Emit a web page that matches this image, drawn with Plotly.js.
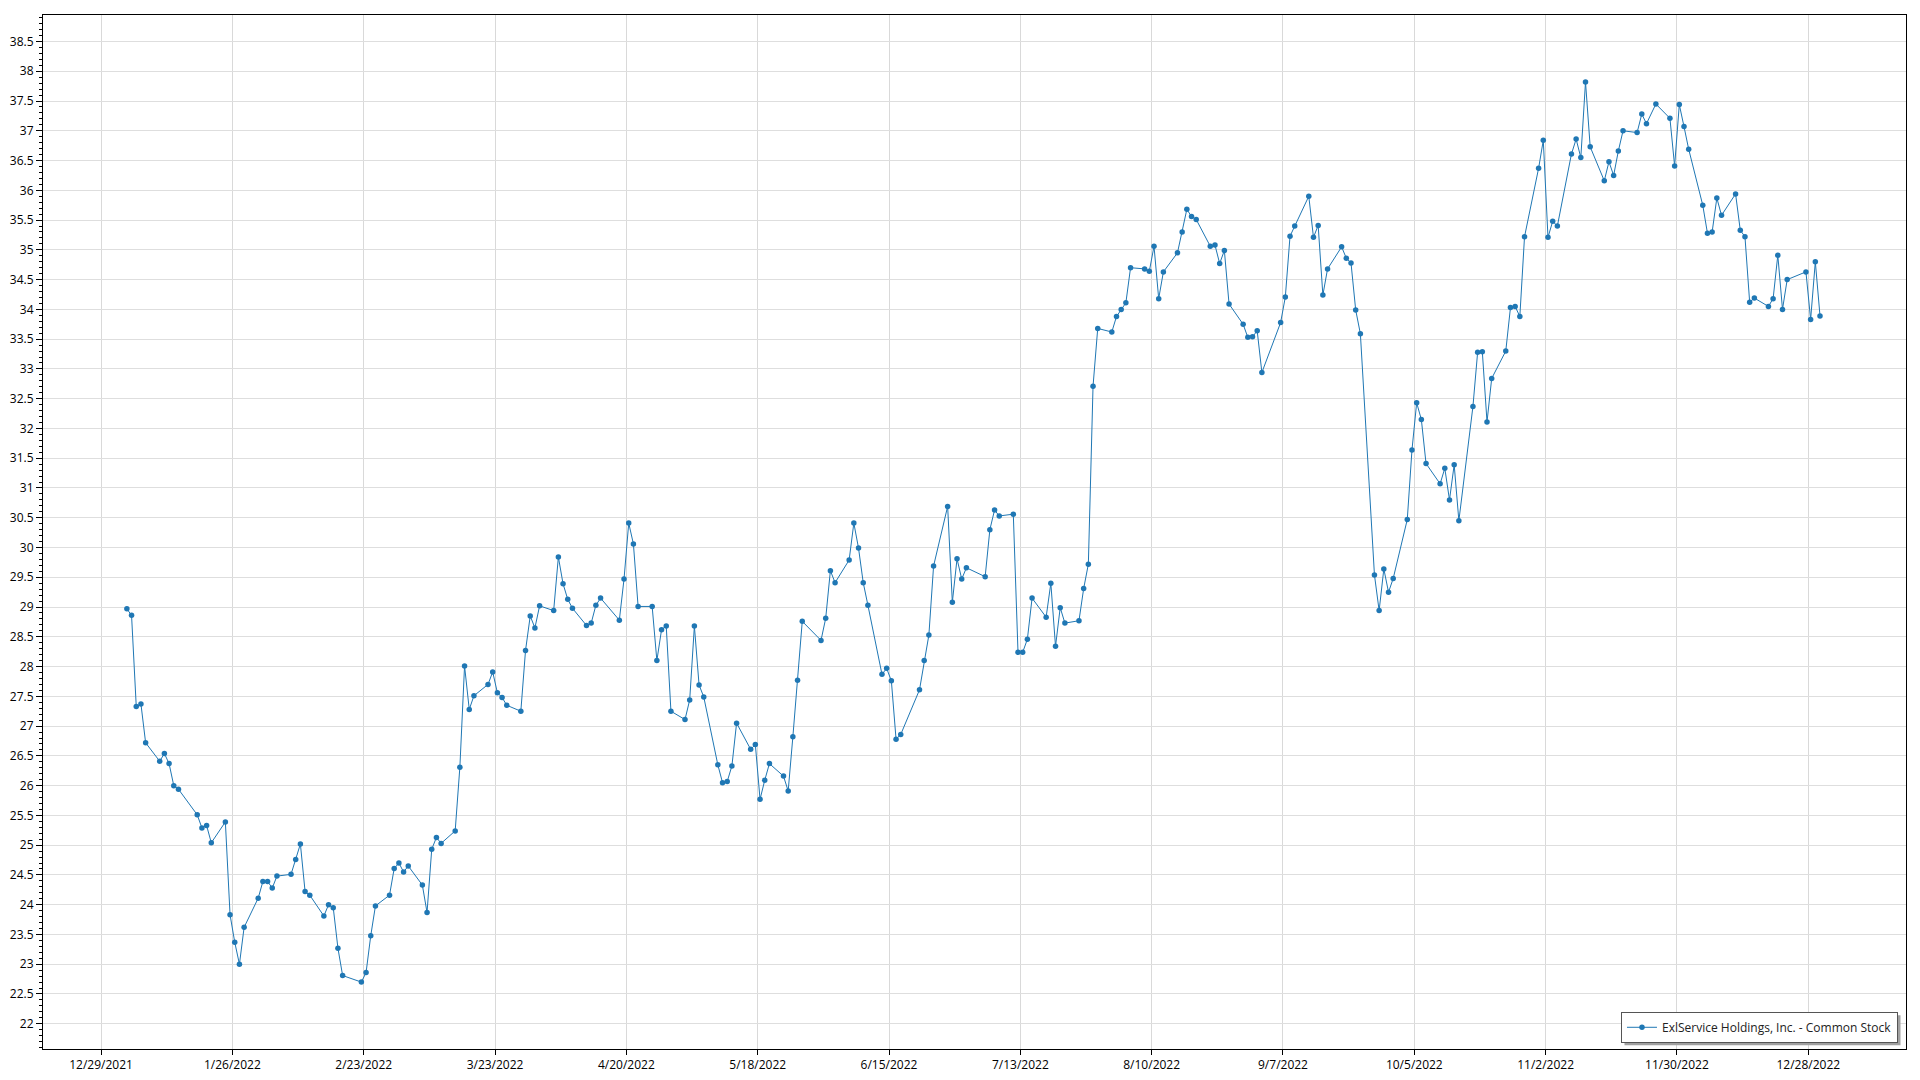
<!DOCTYPE html>
<html>
<head>
<meta charset="utf-8">
<script src="https://cdn.plot.ly/plotly-3.0.1.min.js"></script>
<style>
html,body{margin:0;padding:0;background:#fff;}
#chart{width:1920px;height:1080px;}
</style>
</head>
<body>
<div id="chart"></div>
<script>
const seriesName = "ExlService Holdings, Inc. - Common Stock";

const dates = [
"2022-01-03","2022-01-04","2022-01-05","2022-01-06","2022-01-07","2022-01-10","2022-01-11","2022-01-12","2022-01-13","2022-01-14",
"2022-01-18","2022-01-19","2022-01-20","2022-01-21","2022-01-24","2022-01-25","2022-01-26","2022-01-27","2022-01-28","2022-01-31",
"2022-02-01","2022-02-02","2022-02-03","2022-02-04","2022-02-07","2022-02-08","2022-02-09","2022-02-10","2022-02-11","2022-02-14",
"2022-02-15","2022-02-16","2022-02-17","2022-02-18","2022-02-22","2022-02-23","2022-02-24","2022-02-25","2022-02-28",
"2022-03-01","2022-03-02","2022-03-03","2022-03-04","2022-03-07","2022-03-08","2022-03-09","2022-03-10","2022-03-11","2022-03-14",
"2022-03-15","2022-03-16","2022-03-17","2022-03-18","2022-03-21","2022-03-22","2022-03-23","2022-03-24","2022-03-25","2022-03-28",
"2022-03-29","2022-03-30","2022-03-31",
"2022-04-01","2022-04-04","2022-04-05","2022-04-06","2022-04-07","2022-04-08","2022-04-11","2022-04-12","2022-04-13","2022-04-14",
"2022-04-18","2022-04-19","2022-04-20","2022-04-21","2022-04-22","2022-04-25","2022-04-26","2022-04-27","2022-04-28","2022-04-29",
"2022-05-02","2022-05-03","2022-05-04","2022-05-05","2022-05-06","2022-05-09","2022-05-10","2022-05-11","2022-05-12","2022-05-13",
"2022-05-16","2022-05-17","2022-05-18","2022-05-19","2022-05-20","2022-05-23","2022-05-24","2022-05-25","2022-05-26","2022-05-27",
"2022-05-31",
"2022-06-01","2022-06-02","2022-06-03","2022-06-06","2022-06-07","2022-06-08","2022-06-09","2022-06-10","2022-06-13","2022-06-14",
"2022-06-15","2022-06-16","2022-06-17","2022-06-21","2022-06-22","2022-06-23","2022-06-24","2022-06-27","2022-06-28","2022-06-29",
"2022-06-30",
"2022-07-01","2022-07-05","2022-07-06","2022-07-07","2022-07-08","2022-07-11","2022-07-12","2022-07-13","2022-07-14","2022-07-15",
"2022-07-18","2022-07-19","2022-07-20","2022-07-21","2022-07-22","2022-07-25","2022-07-26","2022-07-27","2022-07-28","2022-07-29",
"2022-08-01","2022-08-02","2022-08-03","2022-08-04","2022-08-05","2022-08-08","2022-08-09","2022-08-10","2022-08-11","2022-08-12",
"2022-08-15","2022-08-16","2022-08-17","2022-08-18","2022-08-19","2022-08-22","2022-08-23","2022-08-24","2022-08-25","2022-08-26",
"2022-08-29","2022-08-30","2022-08-31",
"2022-09-01","2022-09-02","2022-09-06","2022-09-07","2022-09-08","2022-09-09","2022-09-12","2022-09-13","2022-09-14","2022-09-15",
"2022-09-16","2022-09-19","2022-09-20","2022-09-21","2022-09-22","2022-09-23","2022-09-26","2022-09-27","2022-09-28","2022-09-29",
"2022-09-30",
"2022-10-03","2022-10-04","2022-10-05","2022-10-06","2022-10-07","2022-10-10","2022-10-11","2022-10-12","2022-10-13","2022-10-14",
"2022-10-17","2022-10-18","2022-10-19","2022-10-20","2022-10-21","2022-10-24","2022-10-25","2022-10-26","2022-10-27","2022-10-28",
"2022-10-31",
"2022-11-01","2022-11-02","2022-11-03","2022-11-04","2022-11-07","2022-11-08","2022-11-09","2022-11-10","2022-11-11","2022-11-14",
"2022-11-15","2022-11-16","2022-11-17","2022-11-18","2022-11-21","2022-11-22","2022-11-23","2022-11-25","2022-11-28","2022-11-29",
"2022-11-30",
"2022-12-01","2022-12-02","2022-12-05","2022-12-06","2022-12-07","2022-12-08","2022-12-09","2022-12-12","2022-12-13","2022-12-14",
"2022-12-15","2022-12-16","2022-12-19","2022-12-20","2022-12-21","2022-12-22","2022-12-23","2022-12-27","2022-12-28","2022-12-29",
"2022-12-30"
];

const prices = [
28.97,28.86,27.33,27.37,26.72,26.41,26.54,26.37,26.00,25.94,
25.51,25.29,25.33,25.04,25.39,23.83,23.37,23.00,23.62,24.11,
24.39,24.39,24.28,24.48,24.51,24.76,25.02,24.22,24.16,23.81,
24.00,23.95,23.27,22.81,22.70,22.86,23.48,23.98,24.16,
24.61,24.70,24.55,24.65,24.33,23.87,24.93,25.13,25.03,25.24,
26.31,28.01,27.28,27.51,27.70,27.91,27.56,27.48,27.35,27.25,
28.27,28.85,28.65,
29.02,28.94,29.84,29.39,29.13,28.98,28.69,28.73,29.03,29.15,
28.78,29.47,30.41,30.06,29.01,29.01,28.10,28.62,28.68,27.25,
27.11,27.44,28.68,27.69,27.49,26.35,26.05,26.07,26.33,27.05,
26.61,26.69,25.77,26.09,26.37,26.16,25.91,26.82,27.77,28.76,
28.44,
28.81,29.61,29.41,29.79,30.41,29.99,29.41,29.03,27.87,27.97,
27.76,26.78,26.86,27.61,28.10,28.53,29.69,30.69,29.08,29.81,
29.47,
29.66,29.51,30.30,30.63,30.53,30.56,28.24,28.24,28.46,29.15,
28.83,29.40,28.34,28.99,28.73,28.77,29.31,29.72,32.71,33.68,
33.62,33.88,34.00,34.11,34.70,34.68,34.64,35.06,34.18,34.63,
34.95,35.30,35.68,35.56,35.51,35.06,35.08,34.77,34.99,34.09,
33.75,33.53,33.54,
33.64,32.94,33.78,34.21,35.23,35.40,35.90,35.21,35.41,34.24,
34.68,35.05,34.86,34.78,33.99,33.59,29.54,28.94,29.64,29.25,
29.48,
30.47,31.64,32.43,32.15,31.41,31.07,31.33,30.80,31.39,30.45,
32.37,33.28,33.29,32.11,32.84,33.30,34.03,34.05,33.88,35.22,
36.37,
36.84,35.21,35.48,35.40,36.61,36.86,36.55,37.82,36.73,36.16,
36.48,36.25,36.66,37.00,36.97,37.28,37.12,37.45,37.21,36.41,
37.44,
37.07,36.69,35.75,35.28,35.30,35.87,35.58,35.94,35.33,35.22,
34.12,34.19,34.05,34.18,34.91,34.00,34.50,34.63,33.83,34.80,
33.89
];

const xTickVals = ["2021-12-29","2022-01-26","2022-02-23","2022-03-23","2022-04-20","2022-05-18","2022-06-15",
                   "2022-07-13","2022-08-10","2022-09-07","2022-10-05","2022-11-02","2022-11-30","2022-12-28"];
const xTickText = ["12/29/2021","1/26/2022","2/23/2022","3/23/2022","4/20/2022","5/18/2022","6/15/2022",
                   "7/13/2022","8/10/2022","9/7/2022","10/5/2022","11/2/2022","11/30/2022","12/28/2022"];

const FONT = "Segoe UI, 'Open Sans', 'Noto Sans', sans-serif";

const trace = {
  type: "scatter",
  mode: "lines+markers",
  x: dates,
  y: prices,
  xperiod: 86400000,
  xperiodalignment: "middle",
  name: seriesName,
  line: {color: "#1f77b4", width: 1},
  marker: {color: "#1f77b4", size: 5.5},
  showlegend: true
};

const layout = {
  width: 1920,
  height: 1080,
  margin: {l: 43, r: 14, t: 15, b: 31, pad: 0},
  paper_bgcolor: "#ffffff",
  plot_bgcolor: "#ffffff",
  font: {family: FONT, size: 12, color: "#000000"},
  showlegend: true,
  xaxis: {
    type: "date",
    range: ["2021-12-16 14:50", "2023-01-17 20:00"],
    tickmode: "array",
    tickvals: xTickVals,
    ticktext: xTickText,
    ticks: "outside",
    ticklen: 5,
    tickcolor: "#000000",
    showgrid: true,
    gridcolor: "#d9d9d9",
    gridwidth: 1,
    showline: true,
    linecolor: "#000000",
    linewidth: 1,
    mirror: true,
    zeroline: false,
    tickfont: {family: FONT, size: 12, color: "#000000"}
  },
  yaxis: {
    range: [21.576, 38.945],
    tickmode: "linear",
    tick0: 22,
    dtick: 0.5,
    ticks: "outside",
    ticklen: 6,
    tickcolor: "#000000",
    minor: {ticks: "outside", ticklen: 3, tickcolor: "#000000", dtick: 0.1, tick0: 22, showgrid: false},
    showgrid: true,
    gridcolor: "#dedede",
    gridwidth: 1,
    showline: true,
    linecolor: "#000000",
    linewidth: 1,
    mirror: true,
    zeroline: false,
    tickfont: {family: FONT, size: 12, color: "#000000"}
  },
  legend: {
    x: 0.9957,
    xanchor: "right",
    y: 0.006,
    yanchor: "bottom",
    bgcolor: "#ffffff",
    bordercolor: "#555555",
    borderwidth: 1,
    font: {family: FONT, size: 12, color: "#222222"},
    itemwidth: 30
  }
};

Plotly.newPlot("chart", [trace], layout, {displayModeBar: false, staticPlot: true}).then(function (gd) {
  const bg = gd.querySelector(".legend rect.bg");
  if (!bg) return;
  const r = bg.getBoundingClientRect();
  const fl = gd._fullLayout;
  const ox = fl._size.l, oy = fl._size.t, w = fl._size.w, h = fl._size.h;
  const off = 3;
  const toX = px => (px - ox) / w;
  const toY = py => 1 - (py - oy) / h;
  Plotly.relayout(gd, {
    shapes: [{
      type: "rect", xref: "paper", yref: "paper", layer: "above",
      x0: toX(r.left + off), x1: toX(r.right + off),
      y0: toY(r.bottom + off), y1: toY(r.top + off),
      fillcolor: "#a0a0a0", line: {width: 0}
    }]
  });
});
</script>
</body>
</html>
